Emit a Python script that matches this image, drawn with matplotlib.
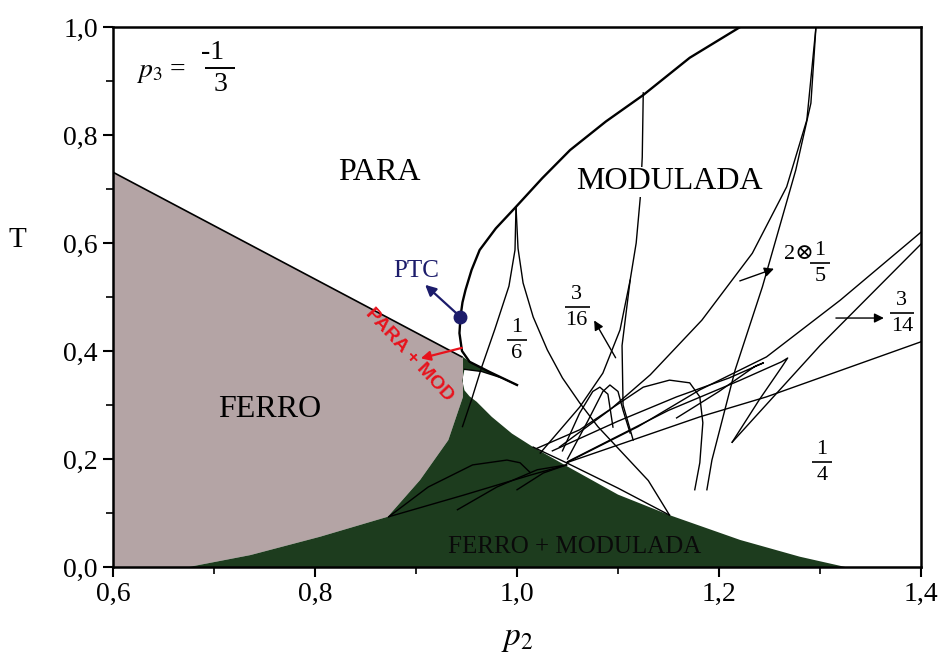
import matplotlib
matplotlib.use('Agg')
import matplotlib.pyplot as plt
from matplotlib.patches import Polygon
import numpy as np

plt.rcParams['mathtext.fontset'] = 'stix'
SERIF = ['Liberation Serif', 'DejaVu Serif']

# ---------------- data (p2, T) ----------------
ferro_p2 = [0.6, 0.6, 0.9455, 0.9465, 0.9465, 0.932, 0.904, 0.872, 0.805, 0.736, 0.675]
ferro_T = [0.0, 0.731, 0.389, 0.389, 0.315, 0.235, 0.161, 0.093, 0.056, 0.022, 0.0]

green_p2 = [0.675, 0.736, 0.805, 0.872, 0.904, 0.932, 0.9465, 0.9465, 0.953, 0.973, 1.0,
            0.985, 0.965, 0.948, 0.9458, 0.948, 0.953, 0.960, 0.975, 0.995, 1.016, 1.050,
            1.100, 1.151, 1.221, 1.280, 1.325]
green_T = [0.0, 0.022, 0.056, 0.093, 0.161, 0.235, 0.315, 0.389, 0.380, 0.361, 0.337,
           0.350, 0.362, 0.366, 0.345, 0.327, 0.316, 0.306, 0.278, 0.247, 0.222, 0.186,
           0.134, 0.096, 0.050, 0.019, 0.0]

stripe_p2 = [1.016, 1.050, 1.100, 1.151]
stripe_T = [0.222, 0.192, 0.146, 0.096]

para_ferro_p2 = [0.6, 0.9455]
para_ferro_T = [0.731, 0.389]

outer_p2 = [1.0, 0.973, 0.953, 0.9455, 0.943, 0.944, 0.946, 0.949, 0.955, 0.963, 0.979,
            0.999, 1.025, 1.0525, 1.088, 1.125, 1.171, 1.221]
outer_T = [0.337, 0.361, 0.380, 0.400, 0.433, 0.463, 0.49, 0.513, 0.55, 0.587, 0.627,
           0.667, 0.72, 0.772, 0.825, 0.874, 0.943, 1.0]

wedge_p2 = [0.948, 0.965, 0.985, 1.0]
wedge_T = [0.366, 0.362, 0.350, 0.337]

sixth_left_p2 = [0.999, 0.998, 0.992, 0.978, 0.965, 0.955, 0.946]
sixth_left_T = [0.667, 0.587, 0.52, 0.44, 0.37, 0.31, 0.26]
sixth_right_p2 = [0.999, 1.001, 1.006, 1.016, 1.030, 1.045, 1.062, 1.080, 1.100, 1.130, 1.151]
sixth_right_T = [0.667, 0.59, 0.526, 0.463, 0.402, 0.35, 0.304, 0.26, 0.22, 0.16, 0.096]

v_p2 = [1.125, 1.124, 1.122, 1.118, 1.112, 1.102, 1.085, 1.062, 1.023]
v_T = [0.878, 0.759, 0.683, 0.60, 0.531, 0.439, 0.359, 0.296, 0.211]
v2_p2 = [1.112, 1.104, 1.105, 1.115]
v2_T = [0.531, 0.41, 0.30, 0.235]

x1_p2 = [1.296, 1.287, 1.267, 1.233, 1.183, 1.132, 1.092, 1.042]
x1_T = [1.0, 0.828, 0.704, 0.581, 0.457, 0.356, 0.291, 0.222]
x2_p2 = [1.296, 1.291, 1.276, 1.243, 1.216, 1.193, 1.188]
x2_T = [1.0, 0.859, 0.735, 0.519, 0.365, 0.198, 0.143]

loop_p2 = [1.02, 1.062, 1.125, 1.151, 1.171, 1.181, 1.184, 1.181, 1.176]
loop_T = [0.22, 0.254, 0.333, 0.346, 0.341, 0.315, 0.267, 0.193, 0.143]

h1_p2 = [1.035, 1.10, 1.158, 1.21, 1.244, 1.236, 1.20, 1.158]
h1_T = [0.215, 0.27, 0.315, 0.35, 0.378, 0.372, 0.325, 0.276]
h2_p2 = [1.05, 1.15, 1.22, 1.262, 1.268, 1.262, 1.24, 1.213]
h2_T = [0.195, 0.29, 0.345, 0.38, 0.387, 0.37, 0.31, 0.231]

line_a_p2 = [1.049, 1.12, 1.181, 1.247, 1.320, 1.4]
line_a_T = [0.193, 0.26, 0.328, 0.389, 0.494, 0.62]
line_b_p2 = [1.213, 1.30, 1.4]
line_b_T = [0.231, 0.41, 0.598]
line_c_p2 = [1.049, 1.181, 1.247, 1.4]
line_c_T = [0.193, 0.278, 0.315, 0.417]

s1_p2 = [1.045, 1.062, 1.075, 1.082, 1.09, 1.095]
s1_T = [0.215, 0.285, 0.325, 0.333, 0.32, 0.259]
s2_p2 = [1.05, 1.07, 1.085, 1.092, 1.10, 1.105, 1.112]
s2_T = [0.20, 0.27, 0.325, 0.337, 0.325, 0.29, 0.248]

ga_p2 = [0.873, 0.912, 0.956, 0.99, 1.003, 1.013]
ga_T = [0.093, 0.148, 0.189, 0.198, 0.193, 0.175]
gb_p2 = [0.941, 0.980, 1.020, 1.049]
gb_T = [0.106, 0.148, 0.18, 0.189]
gc_p2 = [1.0, 1.026, 1.049]
gc_T = [0.143, 0.174, 0.189]
gd_p2 = [0.873, 0.947, 1.013, 1.049]
gd_T = [0.093, 0.133, 0.17, 0.189]

ptc_p2, ptc_T = 0.944, 0.463

x_ticks = [0.6, 0.8, 1.0, 1.2, 1.4]
x_tick_labels = ['0,6', '0,8', '1,0', '1,2', '1,4']
y_ticks = [0.0, 0.2, 0.4, 0.6, 0.8, 1.0]
y_tick_labels = ['0,0', '0,2', '0,4', '0,6', '0,8', '1,0']

# ---------------- figure ----------------
fig = plt.figure(figsize=(9.42, 6.55), dpi=100)
ax = fig.add_axes([0.12, 0.1344, 0.8577, 0.8244])
ax.set_xlim(0.6, 1.4)
ax.set_ylim(0.0, 1.0)

GRAY = '#b4a4a5'
GREEN = '#1d3c1e'

ax.add_patch(Polygon(np.column_stack([ferro_p2, ferro_T]), closed=True,
                     facecolor=GRAY, edgecolor='none', zorder=1))
ax.add_patch(Polygon(np.column_stack([green_p2, green_T]), closed=True,
                     facecolor=GREEN, edgecolor='none', zorder=1))

lw = 1.0
k = 'black'
ax.plot(para_ferro_p2, para_ferro_T, color=k, lw=1.2, zorder=3)
ax.plot(outer_p2, outer_T, color=k, lw=1.7, zorder=3, solid_joinstyle='round')
for px_, py_ in [(wedge_p2, wedge_T), (sixth_left_p2, sixth_left_T),
                 (sixth_right_p2, sixth_right_T), (v_p2, v_T), (v2_p2, v2_T),
                 (x1_p2, x1_T), (x2_p2, x2_T), (loop_p2, loop_T),
                 (h1_p2, h1_T), (h2_p2, h2_T), (line_a_p2, line_a_T),
                 (line_b_p2, line_b_T), (line_c_p2, line_c_T),
                 (s1_p2, s1_T), (s2_p2, s2_T), (stripe_p2, stripe_T),
                 (ga_p2, ga_T), (gb_p2, gb_T), (gc_p2, gc_T), (gd_p2, gd_T)]:
    ax.plot(px_, py_, color=k, lw=lw, zorder=3, solid_joinstyle='round')

# PTC point and arrows
NAVY = '#1c1c6b'
ax.plot([ptc_p2], [ptc_T], marker='o', ms=9, color=NAVY, zorder=5)
ax.annotate('', xy=(0.907, 0.526), xytext=(ptc_p2, ptc_T),
            arrowprops=dict(arrowstyle='-|>', color=NAVY, lw=1.6, mutation_scale=16), zorder=5)
ax.text(0.900, 0.548, 'PTC', color=NAVY, fontsize=18, family=SERIF, ha='center', va='center')

RED = '#e8121c'
ax.annotate('', xy=(0.902, 0.385), xytext=(0.948, 0.407),
            arrowprops=dict(arrowstyle='-|>', color=RED, lw=1.6, mutation_scale=14), zorder=5)
ax.text(0.893, 0.392, 'PARA + MOD', color=RED, fontsize=14, fontweight='bold',
        family='Liberation Sans', rotation=-47, ha='center', va='center', rotation_mode='anchor')

# fraction pointer arrows
arr = dict(arrowstyle='-|>', color=k, lw=1.0, mutation_scale=14)
ax.annotate('', xy=(1.075, 0.461), xytext=(1.099, 0.383), arrowprops=arr)
ax.annotate('', xy=(1.257, 0.554), xytext=(1.218, 0.528), arrowprops=arr)
ax.annotate('', xy=(1.366, 0.461), xytext=(1.313, 0.461), arrowprops=arr)

# region labels
ax.text(0.864, 0.731, 'PARA', fontsize=23, family=SERIF, ha='center', va='center')
ax.text(1.151, 0.713, 'MODULADA', fontsize=23, family=SERIF, ha='center', va='center',
        bbox=dict(facecolor='white', edgecolor='none', pad=0.5), zorder=4)
ax.text(0.755, 0.291, 'FERRO', fontsize=23, family=SERIF, ha='center', va='center')
ax.text(1.057, 0.037, 'FERRO + MODULADA', fontsize=18, family=SERIF, ha='center',
        va='center', color='#0a0a0a')


def frac(x, y, num, den, width=15, size=16):
    ax.plot([x], [y], marker='_', ms=width, mew=1.2, color='k', zorder=6)
    ax.annotate(num, (x, y), xytext=(0, 2), textcoords='offset points',
                ha='center', va='bottom', fontsize=size, family=SERIF)
    ax.annotate(den, (x, y), xytext=(0, -3), textcoords='offset points',
                ha='center', va='top', fontsize=size, family=SERIF)


frac(1.0, 0.420, '1', '6')
frac(1.059, 0.481, '3', '16', width=18)
frac(1.300, 0.563, '1', '5')
ax.text(1.279, 0.578, '2\u2297', fontsize=16, family=SERIF, ha='center', va='center')
frac(1.381, 0.470, '3', '14', width=17)
frac(1.302, 0.194, '1', '4')

# p3 label
ax.text(0.672, 0.915, r'$p_3$ =', fontsize=20, family=SERIF, ha='right', va='center')
ax.plot([0.706], [0.924], marker='_', ms=22, mew=1.4, color='k')
ax.annotate('-1', (0.699, 0.924), xytext=(0, 2), textcoords='offset points',
            ha='center', va='bottom', fontsize=20, family=SERIF)
ax.annotate('3', (0.706, 0.924), xytext=(0, -3), textcoords='offset points',
            ha='center', va='top', fontsize=20, family=SERIF)

# axes styling
ax.set_xticks(x_ticks)
ax.set_xticklabels(x_tick_labels, fontsize=20, family=SERIF)
ax.set_yticks(y_ticks)
ax.set_yticklabels(y_tick_labels, fontsize=20, family=SERIF)
ax.set_xticks(np.arange(0.7, 1.4, 0.2), minor=True)
ax.set_yticks(np.arange(0.1, 1.0, 0.2), minor=True)
ax.tick_params(which='major', direction='out', length=7, width=1.5, pad=4)
ax.tick_params(which='minor', direction='out', length=5, width=1.2)
for s in ax.spines.values():
    s.set_linewidth(1.8)

ax.text(-0.118, 0.606, 'T', transform=ax.transAxes, fontsize=21, family=SERIF,
        ha='center', va='center')
ax.text(0.5, -0.13, r'$p_2$', transform=ax.transAxes, fontsize=24, ha='center', va='center')

fig.savefig('out.png', dpi=100)
